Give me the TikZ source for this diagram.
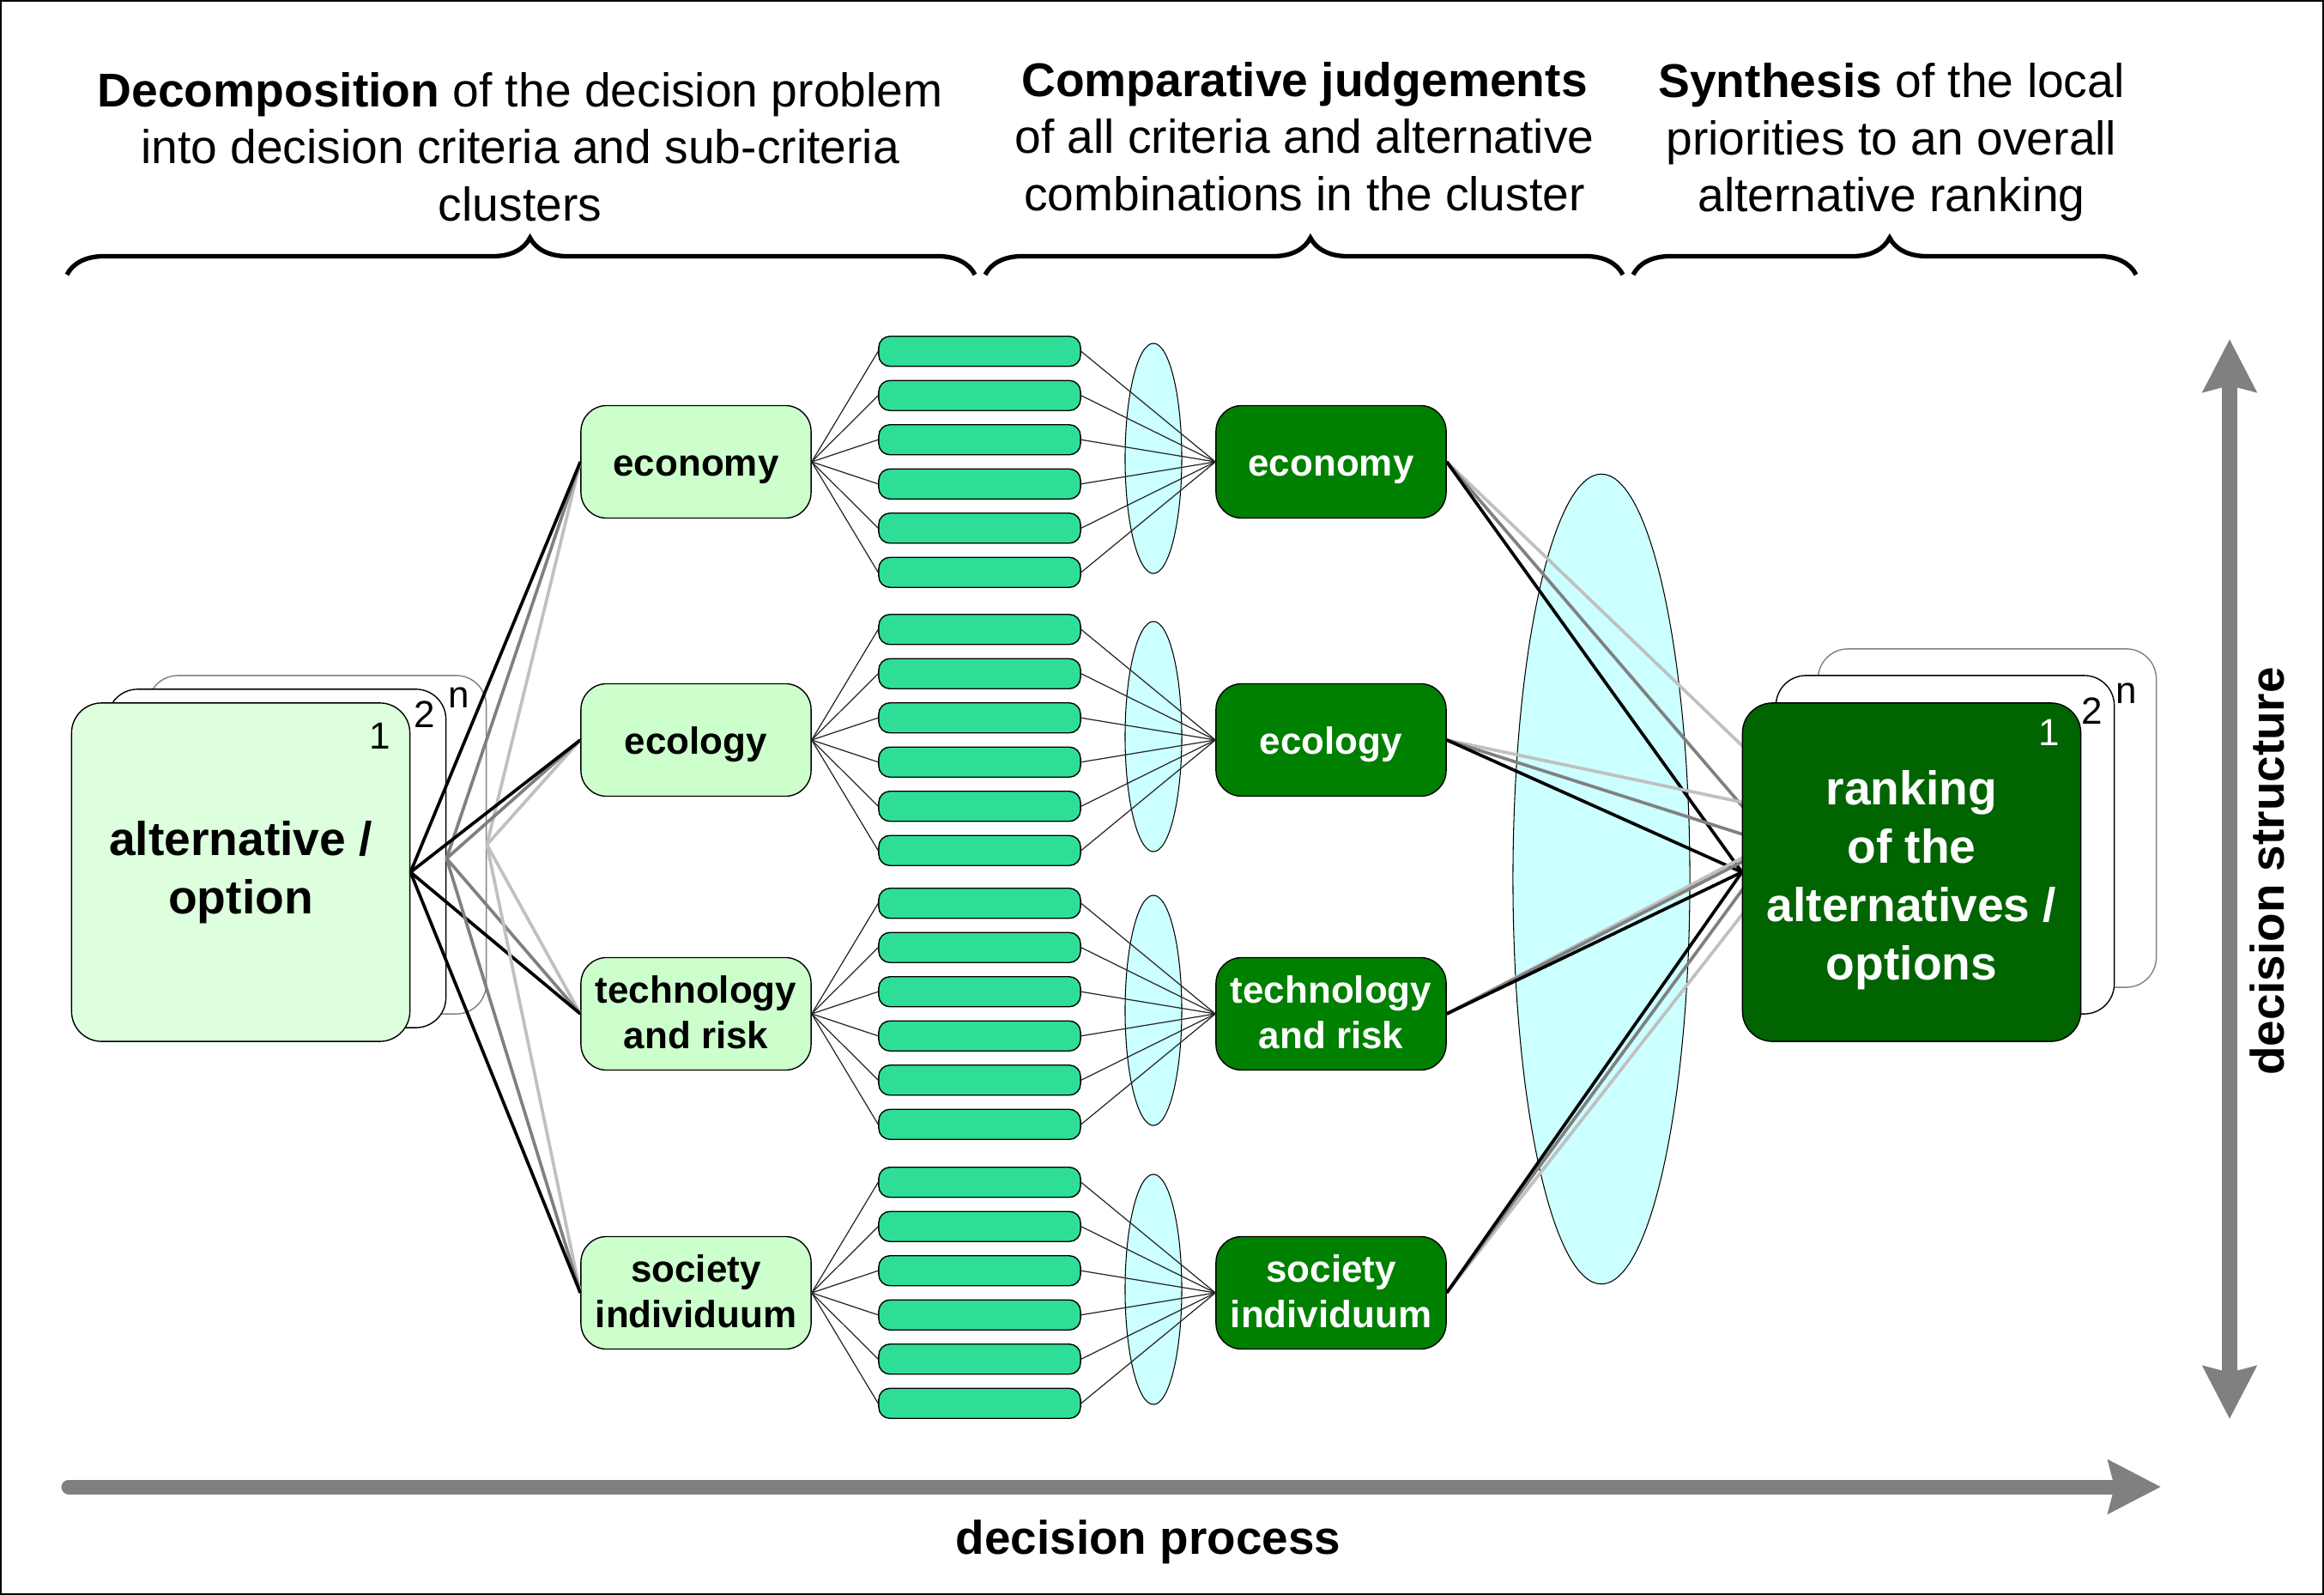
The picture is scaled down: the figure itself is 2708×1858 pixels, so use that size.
\documentclass[tikz,border=0pt]{standalone}
\usepackage{fontspec}
\setmainfont{Liberation Sans}
\usetikzlibrary{arrows.meta,decorations.pathreplacing,shapes.geometric}
\definecolor{critfill}{RGB}{204,255,204}
\definecolor{cardfill}{RGB}{221,255,221}
\definecolor{barfill}{RGB}{46,222,150}
\definecolor{ellfill}{RGB}{204,255,255}
\definecolor{darkbox}{RGB}{0,128,0}
\definecolor{rankfill}{RGB}{0,100,0}
\definecolor{lgray}{RGB}{192,192,192}
\definecolor{mgray}{RGB}{128,128,128}
\pgfdeclarelayer{back}
\pgfdeclarelayer{mid}
\pgfsetlayers{back,mid,main}
\tikzset{
  crit/.style={draw=black, line width=0.4pt, fill=critfill, rounded corners=0.3cm,
    minimum width=2.68cm, minimum height=1.31cm, inner sep=0pt, align=center,
    text depth=2.5pt, text height=25.7pt, font=\fontsize{12.5}{15.2}\selectfont\bfseries},
  oneline/.style={text height=12pt},
  darkcrit/.style={crit, fill=darkbox, text=white},
  barbox/.style={draw=black, line width=0.4pt, fill=barfill, rounded corners=0.13cm,
    minimum width=2.35cm, minimum height=0.35cm, inner sep=0pt},
  smallell/.style={ellipse, draw=black, line width=0.3pt, fill=ellfill,
    minimum width=0.66cm, minimum height=2.68cm, inner sep=0pt},
  bigell/.style={ellipse, draw=black, line width=0.3pt, fill=ellfill,
    minimum width=2.06cm, minimum height=9.43cm, inner sep=0pt},
  card/.style={rounded corners=0.35cm, minimum width=3.94cm, minimum height=3.94cm,
    inner sep=0pt, line width=0.4pt, align=center,
    font=\fontsize{15.7}{19.3}\selectfont\bfseries},
  cardtext/.style={inner sep=0pt, align=center, font=\fontsize{15.7}{19.3}\selectfont\bfseries},
  conn/.style={line width=1.05pt},
  thinconn/.style={line width=0.35pt, draw=black!85},
  num/.style={font=\fontsize{12.5}{15}\selectfont, inner sep=0pt},
  head/.style={align=center, font=\fontsize{15.7}{18.9}\selectfont},
  bracestyle/.style={decorate, decoration={brace, amplitude=0.43cm, aspect=0.51}, line width=1.5pt},
  bigtip/.tip={Stealth[length=0.61cm, width=0.61cm, inset=0.07cm]},
  axislabel/.style={font=\fontsize{15.6}{18}\selectfont\bfseries},
}
\begin{document}
\begin{tikzpicture}[x=0.01cm, y=-0.01cm]
\useasboundingbox (0,0) rectangle (2708,1858);
\draw[line width=0.5pt] (1,1) rectangle (2707,1857);

% headers
\node[head] (h1) at (606,171) {\textbf{Decomposition} of the decision problem\\into decision criteria and sub-criteria\\clusters};
\node[head] (h2) at (1520,159) {\textbf{Comparative judgements}\\of all criteria and alternative\\combinations in the cluster};
\node[head] (h3) at (2204,166) {\textbf{Synthesis} of the local\\priorities to an overall\\alternative ranking};

% braces
\coordinate (br1a) at (78,320);   \coordinate (br1b) at (1136,320);
\coordinate (br2a) at (1148,320); \coordinate (br2b) at (1891,320);
\coordinate (br3a) at (1903,320); \coordinate (br3b) at (2489,320);
\draw[bracestyle] (br1a) -- (br1b);
\draw[bracestyle] (br2a) -- (br2b);
\draw[bracestyle] (br3a) -- (br3b);

% ellipses
\begin{pgfonlayer}{back}
\foreach \g/\y in {1/538, 2/862, 3/1181, 4/1506} {
  \node[smallell] (e\g) at (1344,{\y-4}) {};
}
\node[bigell] (E) at (1866,1024) {};
\end{pgfonlayer}

% criteria, bars, dark boxes
\node[crit, oneline] (c1) at (811,538) {economy};
\node[crit, oneline] (c2) at (811,862) {ecology};
\node[crit] (c3) at (811,1181) {technology\\and risk};
\node[crit] (c4) at (811,1506) {society\\individuum};
\node[darkcrit, oneline] (d1) at (1551,538) {economy};
\node[darkcrit, oneline] (d2) at (1551,862) {ecology};
\node[darkcrit] (d3) at (1551,1181) {technology\\and risk};
\node[darkcrit] (d4) at (1551,1506) {society\\individuum};

\foreach \g/\y in {1/538, 2/862, 3/1181, 4/1506} {
  \foreach \k/\d in {1/-128.75, 2/-77.25, 3/-25.75, 4/25.75, 5/77.25, 6/128.75} {
    \node[barbox] (b\g\k) at (1141.5,{\y+\d}) {};
    \draw[thinconn] (c\g.east) -- (b\g\k.west);
    \draw[thinconn] (b\g\k.east) -- (d\g.west);
  }
}

% left stack
\node[card, draw=mgray, fill=white] (Ln) at (369.5,984) {};
\node[card, draw=black, fill=white] (L2) at (322.5,1000) {};
\node[card, draw=black, fill=cardfill] (L1) at (280.5,1016) {alternative /\\option};
\node[num] (L1n) at (443,857) {1};
\node[num] (L2n) at (495,832) {2};
\node[num] (Lnn) at (535,813) {n};

\foreach \g in {1,...,4} {
  \draw[conn, lgray] (Ln.east) -- (c\g.west);
  \draw[conn, mgray] (L2.east) -- (c\g.west);
  \draw[conn, black] (L1.east) -- (c\g.west);
}

% right stack
\node[card, draw=mgray, fill=white] (Rn) at (2315.5,953) {};
\node[card, draw=black, fill=white] (R2) at (2266.5,984) {};
\node[card, draw=black, fill=rankfill] (R1) at (2227.5,1016) {};
\node[cardtext, text=white] (R1t) at (2227.5,1025) {ranking\\of the\\alternatives /\\options};
\node[num, text=white] (R1n) at (2388,853) {1};
\node[num] (R2n) at (2438,828) {2};
\node[num] (Rnn) at (2478,808) {n};

\begin{pgfonlayer}{mid}
\foreach \g in {1,...,4} {
  \draw[conn, lgray] (d\g.east) -- (Rn.west);
  \draw[conn, mgray] (d\g.east) -- (R2.west);
  \draw[conn, black] (d\g.east) -- (R1.west);
}
\end{pgfonlayer}

% axes
\coordinate (hp1) at (80,1732);
\coordinate (hp2) at (2518,1732);
\draw[draw=mgray, fill=mgray, line width=0.17cm, line cap=round, -{bigtip}] (hp1) -- (hp2);
\node[axislabel] (dp) at (1338,1796) {decision process};

\coordinate (vp1) at (2598,1653);
\coordinate (vp2) at (2598,395);
\draw[draw=mgray, line width=0.18cm, {bigtip}-{bigtip}] (vp1) -- (vp2);
\node[axislabel, rotate=90] (ds) at (2642,1015) {decision structure};
\end{tikzpicture}
\end{document}
